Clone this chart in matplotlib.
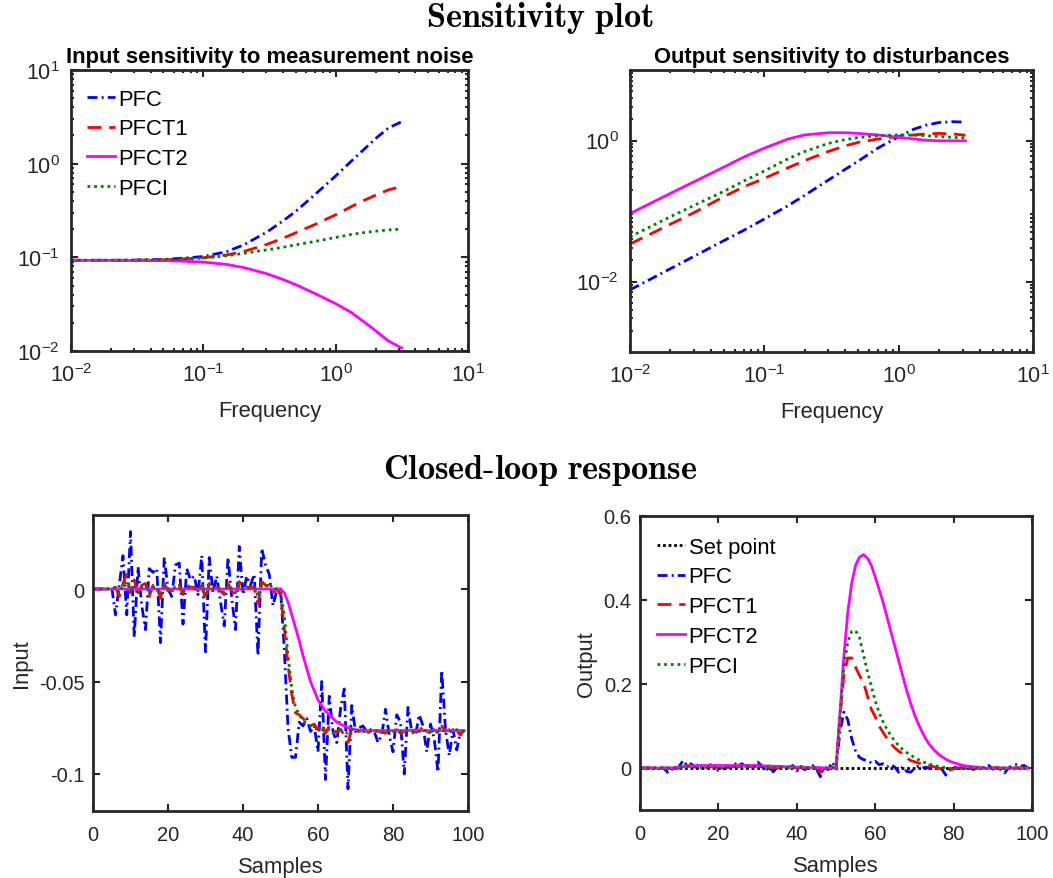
"""
Sensitivity plot + closed-loop response for PFC / PFCT1 / PFCT2 / PFCI
Output: out.png (1053 x 879)
"""
import matplotlib
matplotlib.use("Agg")
import matplotlib.pyplot as plt
from matplotlib.ticker import LogLocator, NullFormatter, FixedLocator, FixedFormatter


# ========== data: sensitivity functions ==========
FREQ = [0.01, 0.02, 0.03, 0.05, 0.07, 0.1, 0.15, 0.2, 0.3, 0.4,
        0.5, 0.7, 1.0, 1.3, 1.6, 2.0, 2.5, 3.1416]

# input sensitivity to measurement noise
IN_PFC = [0.093, 0.093, 0.0935, 0.095, 0.098, 0.102, 0.115, 0.135, 0.185, 0.245,
          0.31, 0.47, 0.74, 1.05, 1.38, 1.85, 2.4, 2.8]
IN_PFCT1 = [0.093, 0.093, 0.0932, 0.094, 0.096, 0.099, 0.106, 0.115, 0.137, 0.16,
            0.183, 0.225, 0.285, 0.345, 0.4, 0.46, 0.525, 0.57]
IN_PFCT2 = [0.093, 0.0928, 0.0925, 0.092, 0.091, 0.089, 0.084, 0.078, 0.067, 0.058,
            0.051, 0.041, 0.032, 0.026, 0.021, 0.0165, 0.0128, 0.0108]
IN_PFCI = [0.093, 0.093, 0.0932, 0.094, 0.096, 0.098, 0.104, 0.11, 0.12, 0.128,
           0.136, 0.148, 0.163, 0.175, 0.183, 0.19, 0.196, 0.2]

# output sensitivity to disturbances
OUT_PFC = [0.0076, 0.0152, 0.0228, 0.038, 0.053, 0.077, 0.119, 0.167, 0.275, 0.39,
           0.51, 0.78, 1.13, 1.45, 1.65, 1.8, 1.85, 1.82]
OUT_PFCT1 = [0.034, 0.065, 0.095, 0.16, 0.22, 0.29, 0.41, 0.52, 0.7, 0.84,
             0.94, 1.05, 1.14, 1.2, 1.24, 1.26, 1.24, 1.19]
OUT_PFCT2 = [0.092, 0.178, 0.26, 0.42, 0.58, 0.78, 1.05, 1.2, 1.29, 1.29,
             1.26, 1.2, 1.11, 1.05, 1.01, 0.99, 0.99, 0.99]
OUT_PFCI = [0.043, 0.083, 0.12, 0.19, 0.265, 0.37, 0.55, 0.7, 0.91, 1.03,
            1.1, 1.17, 1.2, 1.19, 1.17, 1.14, 1.11, 1.09]

# ========== data: closed-loop response ==========
SAMPLES = list(range(100))

U_PFC = [0, 0, 0, 0, 0, 0.001, -0.014, 0.002, 0.018, -0.014,
         0.031, -0.026, 0.012, -0.009, -0.022, 0.011, 0.009, 0.011, -0.029, 0.017,
         0.0, -0.004, 0.013, 0.014, -0.019, 0.011, 0.005, 0.007, -0.003, 0.018,
         -0.034, 0.017, -0.002, 0.007, -0.007, -0.020, 0.017, -0.005, -0.022, 0.023,
         -0.003, 0.007, 0.002, 0.008, -0.036, 0.022, 0.013, 0.008, -0.009, -0.001,
         0.0, -0.032, -0.075, -0.091, -0.091, -0.072, -0.074, -0.070, -0.077, -0.074,
         -0.088, -0.050, -0.103, -0.058, -0.077, -0.083, -0.065, -0.054, -0.108, -0.063,
         -0.077, -0.075, -0.074, -0.077, -0.076, -0.077, -0.083, -0.079, -0.065, -0.079,
         -0.088, -0.068, -0.072, -0.100, -0.064, -0.077, -0.079, -0.068, -0.074, -0.088,
         -0.073, -0.081, -0.099, -0.044, -0.076, -0.090, -0.076, -0.087, -0.077, -0.077]
U_PFCT1 = [0, 0, 0, 0, 0, 0, 0.001, -0.004, 0.003, 0.008,
           -0.002, 0.005, -0.003, 0.002, 0.003, -0.004, 0.002, 0.001, -0.005, 0.003,
           -0.001, 0.0, 0.002, 0.002, -0.003, 0.002, 0.001, 0.001, -0.001, 0.003,
           -0.006, 0.003, 0.0, 0.001, -0.001, -0.003, 0.003, -0.001, -0.004, 0.004,
           0.0, 0.001, 0.001, 0.001, -0.008, 0.004, 0.002, 0.002, -0.002, 0.0,
           -0.003, -0.021, -0.041, -0.057, -0.067, -0.068, -0.070, -0.072, -0.074, -0.073,
           -0.076, -0.073, -0.078, -0.074, -0.078, -0.077, -0.076, -0.079, -0.083, -0.076,
           -0.077, -0.077, -0.076, -0.077, -0.078, -0.076, -0.077, -0.077, -0.078, -0.076,
           -0.077, -0.076, -0.078, -0.077, -0.076, -0.078, -0.076, -0.077, -0.074, -0.077,
           -0.077, -0.076, -0.078, -0.074, -0.077, -0.076, -0.078, -0.077, -0.079, -0.076]
U_PFCT2 = [0.0] * 50 + [
           0.0, -0.002, -0.007, -0.014, -0.021, -0.028, -0.036, -0.043, -0.050, -0.055,
           -0.060, -0.063, -0.066, -0.068, -0.070, -0.072, -0.073, -0.074, -0.075, -0.0755,
           -0.076] + [-0.0765] * 29
U_PFCI = [0, 0, 0, 0, 0, 0, 0.001, -0.002, 0.002, 0.004,
          -0.001, 0.002, -0.002, 0.001, 0.002, -0.002, 0.001, 0.001, -0.003, 0.002,
          0.0, 0.0, 0.001, 0.001, -0.002, 0.001, 0.001, 0.0, 0.0, 0.002,
          -0.003, 0.002, 0.0, 0.001, 0.0, -0.002, 0.002, 0.0, -0.002, 0.002,
          0.0, 0.001, 0.0, 0.001, -0.004, 0.002, 0.001, 0.003, 0.0, 0.0,
          -0.001, -0.014, -0.036, -0.054, -0.064, -0.068, -0.071, -0.073, -0.074, -0.075,
          -0.076, -0.076, -0.077, -0.076, -0.077, -0.077, -0.076, -0.077, -0.078, -0.076,
          -0.077, -0.076, -0.077, -0.077, -0.077, -0.076, -0.077, -0.077, -0.078, -0.076,
          -0.077, -0.077, -0.077, -0.076, -0.077, -0.077, -0.076, -0.077, -0.076, -0.077,
          -0.077, -0.077, -0.077, -0.076, -0.077, -0.077, -0.077, -0.076, -0.077, -0.077]

Y_SETPOINT = [0.0] * 100
Y_PFC = [0, 0, 0, 0, 0, 0, 0.0, -0.010, -0.002, -0.006,
         0.004, 0.018, 0.006, 0.010, 0.003, 0.008, -0.004, 0.003, 0.008, 0.0,
         -0.006, -0.003, 0.002, 0.003, 0.012, 0.006, 0.010, 0.004, 0.008, 0.006,
         0.014, 0.006, -0.008, 0.002, -0.009, 0.002, 0.004, -0.004, 0.002, 0.006,
         -0.007, 0.004, -0.004, 0.003, 0.006, -0.002, -0.021, 0.004, -0.004, 0.014,
         0.0, 0.085, 0.133, 0.115, 0.070, 0.040, 0.025, 0.020, 0.018, 0.012,
         0.016, 0.008, 0.010, 0.003, 0.008, 0.002, -0.010, 0.003, -0.008, -0.010,
         -0.002, 0.004, 0.0, 0.002, -0.002, 0.003, -0.004, -0.002, -0.017, -0.004,
         0.003, -0.002, 0.0, -0.005, 0.004, -0.004, 0.002, -0.003, 0.004, 0.006,
         -0.003, 0.002, -0.004, -0.012, 0.0, 0.006, 0.008, 0.004, 0.006, 0.0]
Y_PFCT1 = [0, 0, 0, 0, 0, 0, 0.0, 0.0, -0.001, 0.0,
           0.001, 0.003, 0.006, 0.004, 0.003, 0.002, 0.001, 0.002, 0.003, 0.001,
           0.0, 0.0, 0.001, 0.002, 0.004, 0.003, 0.004, 0.003, 0.003, 0.003,
           0.005, 0.003, 0.001, 0.001, 0.0, 0.001, 0.001, 0.0, 0.001, 0.002,
           0.0, 0.001, 0.0, 0.001, 0.001, 0.0, -0.011, -0.004, -0.002, 0.002,
           0.0, 0.120, 0.220, 0.262, 0.262, 0.240, 0.220, 0.204, 0.172, 0.140,
           0.122, 0.100, 0.085, 0.070, 0.058, 0.048, 0.040, 0.034, 0.025, 0.018,
           0.015, 0.012, 0.010, 0.008, 0.005, 0.003, 0.0, -0.003, -0.006, -0.005,
           -0.002, 0.0, 0.001, 0.0, -0.001, 0.001, 0.0, 0.0, 0.001, 0.0,
           0.0, 0.001, 0.0, -0.001, 0.0, 0.001, 0.0, 0.001, 0.0, 0.0]
Y_PFCT2 = [0, 0, 0, 0, 0, 0, 0, 0, 0, 0.001,
           0.002, 0.003, 0.004, 0.005, 0.005, 0.006, 0.006, 0.006, 0.006, 0.006,
           0.006, 0.006, 0.006, 0.006, 0.006, 0.006, 0.006, 0.006, 0.006, 0.006,
           0.006, 0.005, 0.005, 0.005, 0.004, 0.004, 0.004, 0.003, 0.003, 0.003,
           0.002, 0.002, 0.002, 0.001, 0.001, 0.001, 0.001, 0.0, 0.0, 0.0,
           0.0, 0.130, 0.265, 0.370, 0.440, 0.483, 0.502, 0.508, 0.500, 0.483,
           0.455, 0.425, 0.395, 0.360, 0.325, 0.290, 0.255, 0.220, 0.185, 0.155,
           0.128, 0.105, 0.085, 0.068, 0.054, 0.043, 0.034, 0.027, 0.021, 0.016,
           0.013, 0.010, 0.007, 0.005, 0.004, 0.003, 0.002, 0.001, 0.0, 0.0,
           0, 0, 0, 0, 0, 0, 0, 0, 0, 0]
Y_PFCI = [0, 0, 0, 0, 0, 0, 0, 0, 0, 0,
          0.001, 0.002, 0.004, 0.003, 0.002, 0.002, 0.001, 0.002, 0.002, 0.001,
          0.0, 0.0, 0.001, 0.002, 0.003, 0.003, 0.003, 0.003, 0.003, 0.003,
          0.004, 0.003, 0.001, 0.001, 0.001, 0.001, 0.001, 0.001, 0.001, 0.001,
          0.0, 0.001, 0.0, 0.001, 0.001, 0.0, -0.006, -0.003, -0.001, 0.001,
          0.0, 0.120, 0.240, 0.300, 0.325, 0.327, 0.310, 0.270, 0.230, 0.195,
          0.160, 0.132, 0.110, 0.092, 0.077, 0.064, 0.053, 0.044, 0.037, 0.031,
          0.025, 0.020, 0.015, 0.012, 0.009, 0.006, 0.004, 0.002, 0.001, -0.001,
          -0.001, 0, 0, 0, 0, 0, 0, 0, 0, 0,
          0, 0, 0, 0, 0, 0, 0, 0, 0, 0]

NAMES = ["PFC", "PFCT1", "PFCT2", "PFCI"]

# ========== styles (MATLAB look) ==========
LW = 2.0
STYLES = {
    "PFC":   dict(color="#0000FF", linestyle=(0, (3.6, 1.5, 0.7, 1.5))),
    "PFCT1": dict(color="#FF0000", linestyle=(0, (5.0, 2.8))),
    "PFCT2": dict(color="#FF00FF", linestyle="-"),
    "PFCI":  dict(color="#008000", linestyle=(0, (1.0, 1.4))),
}
AX_COLOR = "#262626"
FS_TICK = 14.5
FS_TICK_LOG = 15.5
FS_LABEL = 15.8
LEGEND_KW = dict(loc="upper left", frameon=False, fontsize=FS_LABEL,
                 handlelength=1.3, handletextpad=0.15, labelspacing=0.4,
                 borderaxespad=0, borderpad=0)

plt.rcParams["font.family"] = ["Liberation Sans", "DejaVu Sans"]
plt.rcParams["mathtext.fontset"] = "custom"
plt.rcParams["mathtext.rm"] = "Liberation Sans"
plt.rcParams["mathtext.it"] = "Liberation Sans:italic"
plt.rcParams["mathtext.bf"] = "Liberation Sans:bold"
plt.rcParams["axes.unicode_minus"] = False


def style_axes(ax, log=False):
    for sp in ax.spines.values():
        sp.set_linewidth(2.0)
        sp.set_color(AX_COLOR)
    ax.tick_params(which="both", direction="in", top=True, right=True,
                   colors=AX_COLOR, width=1.5,
                   labelsize=FS_TICK_LOG if log else FS_TICK)
    ax.tick_params(which="major", length=5)
    ax.tick_params(which="minor", length=2.5)
    ax.tick_params(axis="x", which="major", pad=9 if log else 10)
    ax.tick_params(axis="y", which="major", pad=8 if log else 6)
    if log:
        ax.xaxis.set_minor_locator(LogLocator(base=10, subs=range(2, 10), numticks=20))
        ax.yaxis.set_minor_locator(LogLocator(base=10, subs=range(2, 10), numticks=20))
        ax.xaxis.set_minor_formatter(NullFormatter())
        ax.yaxis.set_minor_formatter(NullFormatter())


W, H = 1053, 879
fig = plt.figure(figsize=(W / 100, H / 100), dpi=100)


def px_axes(left, top, right, bottom):
    return fig.add_axes([left / W, 1 - bottom / H, (right - left) / W, (bottom - top) / H])


# --- input sensitivity ---
ax1 = px_axes(71, 71, 468, 352)
for name, vals in zip(NAMES, [IN_PFC, IN_PFCT1, IN_PFCT2, IN_PFCI]):
    ax1.plot(FREQ, vals, lw=LW, label=name, **STYLES[name])
ax1.set_xscale("log")
ax1.set_yscale("log")
ax1.set_xlim(1e-2, 1e1)
ax1.set_ylim(1e-2, 1e1)
style_axes(ax1, log=True)
ax1.set_xlabel("Frequency", fontsize=FS_LABEL, color=AX_COLOR, labelpad=10)
ax1.set_title("Input sensitivity to measurement noise", fontsize=FS_LABEL,
              fontweight="bold", pad=6)
ax1.legend(bbox_to_anchor=(0.04, 0.934), **LEGEND_KW)

# --- output sensitivity ---
ax2 = px_axes(630, 71, 1033, 353)
for name, vals in zip(NAMES, [OUT_PFC, OUT_PFCT1, OUT_PFCT2, OUT_PFCI]):
    ax2.plot(FREQ, vals, lw=LW, label=name, **STYLES[name])
ax2.set_xscale("log")
ax2.set_yscale("log")
ax2.set_xlim(1e-2, 1e1)
ax2.set_ylim(1e-3, 1e1)
style_axes(ax2, log=True)
ax2.yaxis.set_major_locator(FixedLocator([1e-2, 1e0]))
ax2.set_xlabel("Frequency", fontsize=FS_LABEL, color=AX_COLOR, labelpad=10)
ax2.set_title("Output sensitivity to disturbances", fontsize=FS_LABEL,
              fontweight="bold", pad=6)

# --- closed-loop input ---
ax3 = px_axes(93, 516, 468, 812)
for name, vals in zip(NAMES, [U_PFC, U_PFCT1, U_PFCT2, U_PFCI]):
    ax3.plot(SAMPLES, vals, lw=LW, label=name, **STYLES[name])
ax3.set_xlim(0, 100)
ax3.set_ylim(-0.12, 0.04)
style_axes(ax3)
ax3.xaxis.set_major_locator(FixedLocator([0, 20, 40, 60, 80, 100]))
ax3.yaxis.set_major_locator(FixedLocator([-0.1, -0.05, 0]))
ax3.yaxis.set_major_formatter(FixedFormatter(["-0.1", "-0.05", "0"]))
ax3.set_xlabel("Samples", fontsize=FS_LABEL, color=AX_COLOR, labelpad=9)
ax3.set_ylabel("Input", fontsize=FS_LABEL, color=AX_COLOR, labelpad=5)

# --- closed-loop output ---
ax4 = px_axes(640, 517, 1032, 811)
ax4.plot(SAMPLES, Y_SETPOINT, lw=LW, color="black", linestyle=(0, (1.0, 1.0)),
         label="Set point")
for name, vals in zip(NAMES, [Y_PFC, Y_PFCT1, Y_PFCT2, Y_PFCI]):
    ax4.plot(SAMPLES, vals, lw=LW, label=name, **STYLES[name])
ax4.set_xlim(0, 100)
ax4.set_ylim(-0.1, 0.6)
style_axes(ax4)
ax4.xaxis.set_major_locator(FixedLocator([0, 20, 40, 60, 80, 100]))
ax4.yaxis.set_major_locator(FixedLocator([0, 0.2, 0.4, 0.6]))
ax4.yaxis.set_major_formatter(FixedFormatter(["0", "0.2", "0.4", "0.6"]))
ax4.set_xlabel("Samples", fontsize=FS_LABEL, color=AX_COLOR, labelpad=9)
ax4.set_ylabel("Output", fontsize=FS_LABEL, color=AX_COLOR, labelpad=5)
ax4.legend(bbox_to_anchor=(0.043, 0.93), **LEGEND_KW)

# --- section headings (LaTeX-style bold) ---
fig.text(0.513, 1 - 18 / H, r"$\mathbf{Sensitivity\ plot}$", ha="center", va="center",
         fontsize=24.7, math_fontfamily="cm")
fig.text(0.513, 1 - 471 / H, r"$\mathbf{Closed\text{-}loop\ response}$", ha="center",
         va="center", fontsize=24.7, math_fontfamily="cm")

fig.savefig("out.png", dpi=100)
